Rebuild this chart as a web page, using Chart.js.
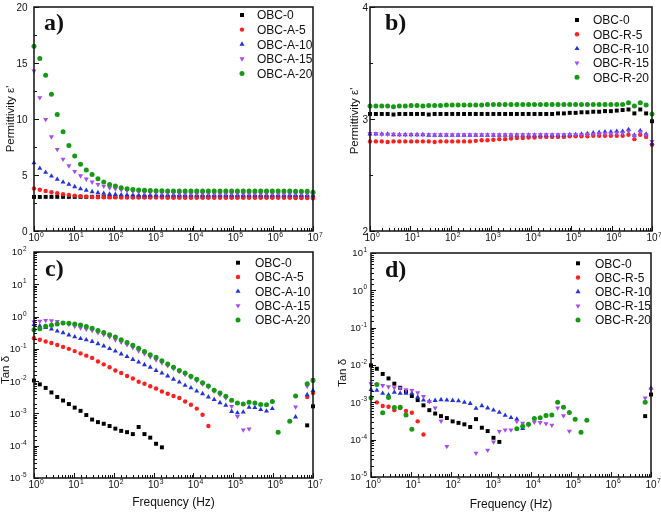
<!DOCTYPE html>
<html>
<head>
<meta charset="utf-8">
<title>Permittivity and tan delta</title>
<script src="https://cdn.jsdelivr.net/npm/chart.js@4.4.0/dist/chart.umd.min.js"></script>
<style>
    body { margin: 0; background: #fff; }
    #wrap { position: relative; width: 661px; height: 512px; }
    #wrap canvas { position: absolute; left: 0; top: 0; }
</style>
</head>
<body>
<div id="wrap">
    <canvas id="panelA" width="661" height="512"></canvas>
    <canvas id="panelB" width="661" height="512"></canvas>
    <canvas id="panelC" width="661" height="512"></canvas>
    <canvas id="panelD" width="661" height="512"></canvas>
</div>
<script>
// measurement frequencies (Hz), ~7 points per decade
const freq = [
    1, 1.4, 1.96, 2.74, 3.83, 5.36, 7.5,
    10.5, 14.7, 20.5, 28.7, 40.2, 56.2, 78.7,
    110, 154, 216, 302, 422, 591, 825,
    1155, 1616, 2262, 3162, 4425, 6190, 8660,
    12115, 16950, 23710, 33170, 46420, 64940, 90850,
    127100, 177800, 248800, 348100, 487000, 681300, 953200,
    1334000, 1866000, 2610000, 3652000, 5109000, 7149000, 10000000
];

const labelsA = ['OBC-0', 'OBC-A-5', 'OBC-A-10', 'OBC-A-15', 'OBC-A-20'];
const labelsR = ['OBC-0', 'OBC-R-5', 'OBC-R-10', 'OBC-R-15', 'OBC-R-20'];

// a) permittivity, OBC-A series
const epsA0 = [
    3.04, 3.04, 3.05, 3.05, 3.05, 3.05, 3.05,
    3.05, 3.05, 3.05, 3.05, 3.05, 3.05, 3.05,
    3.05, 3.05, 3.05, 3.05, 3.05, 3.05, 3.05,
    3.05, 3.05, 3.05, 3.05, 3.05, 3.05, 3.05,
    3.05, 3.05, 3.05, 3.05, 3.05, 3.05, 3.05,
    3.05, 3.05, 3.05, 3.05, 3.05, 3.05, 3.05,
    3.05, 3.05, 3.05, 3.05, 3.05, 3.04, 3.02
];
const epsA5 = [
    3.80, 3.68, 3.57, 3.46, 3.37, 3.28, 3.22,
    3.16, 3.11, 3.07, 3.04, 3.02, 3.01, 3.00,
    3.00, 2.99, 2.99, 2.99, 2.98, 2.98, 2.98,
    2.98, 2.98, 2.97, 2.97, 2.97, 2.97, 2.97,
    2.97, 2.97, 2.97, 2.97, 2.97, 2.97, 2.97,
    2.97, 2.97, 2.97, 2.96, 2.96, 2.96, 2.96,
    2.96, 2.96, 2.96, 2.95, 2.95, 2.94, 2.92
];
const epsA10 = [
    6.09, 5.59, 5.23, 4.90, 4.61, 4.37, 4.16,
    3.95, 3.77, 3.63, 3.51, 3.42, 3.36, 3.30,
    3.26, 3.23, 3.21, 3.20, 3.19, 3.19, 3.19,
    3.19, 3.19, 3.19, 3.19, 3.19, 3.19, 3.19,
    3.19, 3.19, 3.19, 3.19, 3.19, 3.19, 3.19,
    3.19, 3.19, 3.19, 3.19, 3.19, 3.19, 3.19,
    3.19, 3.19, 3.19, 3.19, 3.18, 3.17, 3.14
];
const epsA15 = [
    14.3, 11.9, 9.96, 8.41, 7.28, 6.42, 5.82,
    5.32, 4.93, 4.64, 4.37, 4.16, 4.01, 3.86,
    3.77, 3.68, 3.60, 3.54, 3.49, 3.45, 3.42,
    3.40, 3.38, 3.37, 3.36, 3.35, 3.35, 3.34,
    3.34, 3.34, 3.34, 3.34, 3.34, 3.34, 3.34,
    3.34, 3.34, 3.34, 3.34, 3.34, 3.34, 3.34,
    3.34, 3.34, 3.34, 3.33, 3.33, 3.32, 3.28
];
const epsA20 = [
    16.5, 15.4, 13.9, 12.2, 10.4, 8.86, 7.64,
    6.69, 5.97, 5.44, 5.05, 4.67, 4.37, 4.16,
    4.01, 3.86, 3.77, 3.71, 3.66, 3.63, 3.61,
    3.60, 3.59, 3.58, 3.58, 3.57, 3.57, 3.57,
    3.57, 3.57, 3.57, 3.57, 3.57, 3.57, 3.57,
    3.57, 3.57, 3.57, 3.57, 3.57, 3.57, 3.57,
    3.57, 3.57, 3.57, 3.56, 3.56, 3.54, 3.45
];

// b) permittivity, OBC-R series
const epsR0 = [
    3.045, 3.045, 3.045, 3.045, 3.04, 3.045, 3.045,
    3.045, 3.045, 3.045, 3.04, 3.045, 3.045, 3.045,
    3.045, 3.045, 3.045, 3.045, 3.045, 3.045, 3.045,
    3.045, 3.045, 3.045, 3.045, 3.045, 3.045, 3.045,
    3.045, 3.045, 3.045, 3.045, 3.05, 3.05, 3.055,
    3.055, 3.06, 3.06, 3.065, 3.065, 3.07, 3.07,
    3.075, 3.08, 3.085, 3.05, 3.085, 3.05, 2.98
];
const epsR5 = [
    2.80, 2.80, 2.80, 2.795, 2.80, 2.80, 2.80,
    2.80, 2.80, 2.80, 2.80, 2.795, 2.80, 2.80,
    2.80, 2.80, 2.80, 2.80, 2.805, 2.81, 2.81,
    2.815, 2.82, 2.82, 2.825, 2.83, 2.83, 2.835,
    2.835, 2.84, 2.84, 2.84, 2.84, 2.84, 2.845,
    2.845, 2.845, 2.845, 2.85, 2.85, 2.85, 2.85,
    2.85, 2.85, 2.86, 2.82, 2.86, 2.84, 2.77
];
const epsR10 = [
    2.865, 2.865, 2.865, 2.865, 2.86, 2.86, 2.86,
    2.86, 2.86, 2.86, 2.855, 2.855, 2.855, 2.855,
    2.855, 2.855, 2.855, 2.855, 2.855, 2.855, 2.855,
    2.855, 2.855, 2.855, 2.855, 2.855, 2.855, 2.855,
    2.855, 2.855, 2.855, 2.855, 2.855, 2.855, 2.86,
    2.86, 2.865, 2.87, 2.875, 2.88, 2.885, 2.885,
    2.89, 2.89, 2.905, 2.855, 2.895, 2.865, 2.78
];
const epsR15 = [
    2.87, 2.87, 2.865, 2.865, 2.865, 2.86, 2.86,
    2.86, 2.86, 2.86, 2.86, 2.86, 2.86, 2.86,
    2.86, 2.86, 2.86, 2.86, 2.86, 2.86, 2.86,
    2.86, 2.86, 2.86, 2.86, 2.86, 2.86, 2.86,
    2.86, 2.86, 2.86, 2.86, 2.86, 2.86, 2.86,
    2.86, 2.86, 2.865, 2.865, 2.87, 2.87, 2.87,
    2.875, 2.875, 2.89, 2.85, 2.885, 2.86, 2.80
];
const epsR20 = [
    3.115, 3.115, 3.115, 3.115, 3.11, 3.115, 3.115,
    3.12, 3.12, 3.115, 3.12, 3.12, 3.12, 3.125,
    3.125, 3.125, 3.125, 3.125, 3.125, 3.125, 3.13,
    3.13, 3.13, 3.13, 3.13, 3.13, 3.13, 3.13,
    3.13, 3.13, 3.13, 3.13, 3.13, 3.13, 3.13,
    3.13, 3.13, 3.13, 3.13, 3.13, 3.13, 3.13,
    3.13, 3.13, 3.146, 3.117, 3.146, 3.125, 3.045
];

// c) log10(tan delta), OBC-A series (null = no point shown)
const logTanA0 = [
    -1.98, -2.10, -2.21, -2.35, -2.49, -2.60, -2.71,
    -2.82, -2.92, -3.05, -3.19, -3.27, -3.32, -3.39,
    -3.47, -3.54, -3.58, -3.64, -3.42, -3.64, -3.75,
    -3.94, -4.05, null, null, null, null, null,
    null, null, null, null, null, null, null,
    null, null, null, null, null, null, null,
    null, null, null, null, null, -3.37, -2.78
];
const logTanA5 = [
    -0.67, -0.72, -0.77, -0.82, -0.88, -0.94, -1.00,
    -1.07, -1.14, -1.21, -1.28, -1.39, -1.48, -1.57,
    -1.67, -1.75, -1.84, -1.92, -2.02, -2.08, -2.16,
    -2.23, -2.32, -2.39, -2.46, -2.52, -2.63, -2.73,
    -2.85, -3.04, -3.39, null, null, null, null,
    null, null, null, null, null, null, null,
    null, null, null, null, null, -2.49, -2.37
];
const logTanA10 = [
    -0.25, -0.29, -0.34, -0.39, -0.45, -0.50, -0.57,
    -0.63, -0.68, -0.72, -0.77, -0.84, -0.91, -0.99,
    -1.07, -1.16, -1.24, -1.33, -1.41, -1.49, -1.57,
    -1.67, -1.75, -1.84, -1.94, -2.03, -2.13, -2.21,
    -2.31, -2.39, -2.49, -2.57, -2.67, -2.75, -2.94,
    -2.98, -2.96, -2.81, -2.82, -2.88, -2.93, -2.85,
    null, null, null, -3.11, null, -2.42, -2.29
];
const logTanA15 = [
    -0.17, -0.14, -0.12, -0.13, -0.15, -0.19, -0.24,
    -0.30, -0.35, -0.39, -0.43, -0.50, -0.56, -0.63,
    -0.72, -0.79, -0.87, -0.96, -1.06, -1.15, -1.25,
    -1.34, -1.43, -1.52, -1.61, -1.70, -1.79, -1.88,
    -1.98, -2.09, -2.18, -2.31, -2.42, -2.52, -2.78,
    -3.09, -3.51, -3.48, null, null, null, null,
    null, null, null, -2.80, null, -2.16, -1.95
];
const logTanA20 = [
    -0.41, -0.375, -0.30, -0.27, -0.23, -0.20, -0.21,
    -0.23, -0.26, -0.31, -0.36, -0.43, -0.49, -0.56,
    -0.63, -0.72, -0.80, -0.89, -0.98, -1.08, -1.18,
    -1.26, -1.37, -1.47, -1.57, -1.67, -1.75, -1.85,
    -1.94, -2.05, -2.15, -2.28, -2.37, -2.47, -2.59,
    -2.68, -2.71, -2.65, -2.68, -2.72, -2.73, -2.63,
    -3.58, null, -3.24, -2.46, null, -2.08, -1.98
];

// d) log10(tan delta), OBC-R series
const logTanR0 = [
    -2.01, -2.10, -2.24, -2.36, -2.50, -2.61, -2.72,
    -2.83, -2.94, -3.08, -3.21, -3.30, -3.37, -3.42,
    -3.51, -3.55, -3.59, -3.66, -3.45, -3.68, -3.77,
    -3.95, -4.06, null, null, null, null, null,
    null, null, null, null, null, null, null,
    null, null, null, null, null, null, null,
    null, null, null, null, null, -3.37, -2.79
];
const logTanR5 = [
    null, -3.00, -3.10, -3.12, -3.21, -3.15, -3.23,
    -3.28, -3.51, -3.86, null, null, null, null,
    null, null, null, null, null, null, null,
    null, null, null, null, null, null, null,
    null, null, null, null, null, null, null,
    null, null, null, null, null, null, null,
    null, null, null, null, null, null, null
];
const logTanR10 = [
    -2.66, -2.68, -2.76, -2.80, -2.73, -2.76, -2.76,
    -2.76, -2.86, -2.94, -2.97, -2.95, -2.93, -2.94,
    -2.95, -2.96, -3.00, -3.03, -3.16, -3.09, -3.15,
    -3.21, -3.27, -3.35, -3.41, -3.45, -3.70, null,
    null, null, null, null, null, null, null,
    null, null, null, null, null, null, null,
    null, null, null, null, null, null, -2.62
];
const logTanR15 = [
    -2.50, -2.52, -2.55, -2.58, -2.61, -2.62, -2.66,
    -2.68, -2.74, -2.84, -2.98, -3.15, -3.50, -4.18,
    null, null, null, null, -4.36, null, -4.28,
    -4.06, -3.78, -3.74, -3.74, -3.51, -3.56, -3.61,
    -3.53, -3.54, -3.57, -3.61, -3.15, -3.36, -3.77,
    null, null, null, null, null, null, null,
    null, null, null, null, null, -2.88, -2.65
];
const logTanR20 = [
    -2.88, -2.52, -3.28, -2.87, -3.14, -3.13, -3.34,
    -3.72, null, null, null, null, null, null,
    null, null, null, null, null, null, null,
    null, null, null, null, -3.71, -3.64, -3.59,
    -3.43, -3.41, -3.35, -3.34, -3.00, -3.13, -3.27,
    -3.45, -3.80, -3.48, null, null, null, null,
    null, null, null, null, null, -3.00, null
];

// marker styles, same order as the legend
const markers = [
    { color: '#000000', style: 'rect', radius: 2.8, rotation: 0 },
    { color: '#ff1f1f', style: 'circle', radius: 2.2, rotation: 0 },
    { color: '#2233dd', style: 'triangle', radius: 2.9, rotation: 0 },
    { color: '#a64cf4', style: 'triangle', radius: 2.9, rotation: 180 },
    { color: '#169a16', style: 'circle', radius: 2.5, rotation: 0 }
];

const FONT = '"Liberation Sans", Arial, sans-serif';

function powerOf10(v) {
    const e = Math.round(Math.log10(v));
    return Math.abs(v / Math.pow(10, e) - 1) < 1e-6 ? e : null;
}

// "10" with a raised exponent
function drawPower(ctx, e, x, y, align, size) {
    const expSize = size * 0.68;
    ctx.font = size + 'px ' + FONT;
    const wBase = ctx.measureText('10').width;
    ctx.font = expSize + 'px ' + FONT;
    const wExp = ctx.measureText(String(e)).width;
    const left = align === 'center' ? x - wBase / 2 : x - wBase - wExp - 0.5;
    ctx.textAlign = 'left';
    ctx.textBaseline = 'alphabetic';
    ctx.font = size + 'px ' + FONT;
    ctx.fillText('10', left, y);
    ctx.font = expSize + 'px ' + FONT;
    ctx.fillText(String(e), left + wBase + 0.5, y - size * 0.45);
}

function drawMarker(ctx, m, x, y) {
    ctx.fillStyle = m.color;
    Chart.helpers.drawPoint(ctx, { pointStyle: m.style, radius: m.radius, rotation: m.rotation, borderWidth: 0 }, x, y);
}

// frame, inward ticks, tick labels, titles, panel letter and legend
function decorPlugin(p) {
    return {
        id: 'decor',
        afterDraw(chart) {
            const ctx = chart.ctx;
            const a = chart.chartArea;
            const xs = chart.scales.x;
            const ys = chart.scales.y;
            const isMajorY = v => p.yLog ? powerOf10(v) !== null
                : Math.abs(v / p.yMajor - Math.round(v / p.yMajor)) < 1e-6;
            ctx.save();
            ctx.strokeStyle = '#111';
            ctx.fillStyle = '#111';

            ctx.lineWidth = 1;
            ctx.beginPath();
            xs.ticks.forEach(t => {
                const px = Math.round(xs.getPixelForValue(t.value)) + 0.5;
                ctx.moveTo(px, a.bottom);
                ctx.lineTo(px, a.bottom - (powerOf10(t.value) !== null ? 5 : 3));
            });
            ys.ticks.forEach(t => {
                const py = Math.round(ys.getPixelForValue(t.value)) + 0.5;
                ctx.moveTo(a.left, py);
                ctx.lineTo(a.left + (isMajorY(t.value) ? 5 : 3), py);
            });
            ctx.stroke();

            ctx.lineWidth = 1.5;
            ctx.strokeRect(a.left, a.top, a.right - a.left, a.bottom - a.top);

            // tick labels
            xs.ticks.forEach(t => {
                const e = powerOf10(t.value);
                if (e !== null) drawPower(ctx, e, xs.getPixelForValue(t.value), p.xLabelY, 'center', 10);
            });
            ys.ticks.forEach(t => {
                if (!isMajorY(t.value)) return;
                const py = ys.getPixelForValue(t.value);
                if (p.yLog) {
                    drawPower(ctx, powerOf10(t.value), a.left - p.yLabelGap, py + 3.4, 'right', 9.5);
                } else {
                    ctx.font = '10px ' + FONT;
                    ctx.textAlign = 'right';
                    ctx.textBaseline = 'alphabetic';
                    ctx.fillText(String(Math.round(t.value)), a.left - p.yLabelGap, py + 3.6);
                }
            });

            // axis titles
            ctx.save();
            ctx.translate(p.yTitle.x, p.yTitle.y);
            ctx.rotate(-Math.PI / 2);
            ctx.font = '11.5px ' + FONT;
            ctx.textAlign = 'center';
            ctx.textBaseline = 'middle';
            ctx.fillText(p.yTitle.text, 0, 0);
            ctx.restore();
            if (p.xTitle) {
                ctx.font = '12px ' + FONT;
                ctx.textAlign = 'center';
                ctx.textBaseline = 'middle';
                ctx.fillText(p.xTitle.text, p.xTitle.x, p.xTitle.y);
            }

            // panel letter
            ctx.font = 'bold 24px "Liberation Serif", "Times New Roman", serif';
            ctx.textAlign = 'left';
            ctx.textBaseline = 'alphabetic';
            ctx.fillText(p.letter.text, p.letter.x, p.letter.y);

            // legend
            p.labels.forEach((label, i) => {
                const y = p.legend.y + i * p.legend.dy;
                drawMarker(ctx, markers[i], p.legend.x, y);
                ctx.fillStyle = '#111';
                ctx.font = '12px ' + FONT;
                ctx.textAlign = 'left';
                ctx.textBaseline = 'alphabetic';
                ctx.fillText(label, p.legend.tx, y + 4.3);
            });
            ctx.restore();
        }
    };
}

function makeDatasets(labels, series, isLog) {
    return series.map((vals, i) => ({
        label: labels[i],
        data: freq
            .map((f, k) => vals[k] === null ? null : { x: f, y: isLog ? Math.pow(10, vals[k]) : vals[k] })
            .filter(pt => pt !== null),
        showLine: false,
        pointStyle: markers[i].style,
        pointRadius: markers[i].radius,
        pointRotation: markers[i].rotation,
        pointBackgroundColor: markers[i].color,
        pointBorderWidth: 0,
        order: 5 - i,
        clip: false
    }));
}

function makePanel(id, p) {
    const yScale = p.yLog
        ? { type: 'logarithmic', min: p.yMin, max: p.yMax }
        : { type: 'linear', min: p.yMin, max: p.yMax };
    yScale.ticks = { display: false, stepSize: p.yStep };
    yScale.grid = { display: false, drawTicks: false };
    yScale.border = { display: false };
    yScale.afterFit = s => { s.width = p.yWidth; };

    return new Chart(document.getElementById(id), {
        type: 'scatter',
        data: { datasets: makeDatasets(p.labels, p.series, p.yLog) },
        options: {
            responsive: false,
            animation: false,
            events: [],
            layout: { padding: p.padding },
            plugins: { legend: { display: false }, tooltip: { enabled: false } },
            scales: {
                x: {
                    type: 'logarithmic',
                    min: 1,
                    max: 1e7,
                    ticks: { display: false },
                    grid: { display: false, drawTicks: false },
                    border: { display: false },
                    afterFit: s => { s.height = p.xHeight; }
                },
                y: yScale
            }
        },
        plugins: [decorPlugin(p)]
    });
}

makePanel('panelA', {
    labels: labelsA,
    series: [epsA0, epsA5, epsA10, epsA15, epsA20],
    yLog: false, yMin: 0, yMax: 20, yStep: 2.5, yMajor: 5,
    padding: { left: 0, right: 348, top: 7, bottom: 262 },
    yWidth: 34, xHeight: 19,
    xLabelY: 241, yLabelGap: 6.5,
    yTitle: { text: "Permittivity ε'", x: 10.5, y: 119 },
    letter: { text: 'a)', x: 44, y: 30 },
    legend: { x: 242, tx: 257, y: 15, dy: 14.6 }
});

makePanel('panelB', {
    labels: labelsR,
    series: [epsR0, epsR5, epsR10, epsR15, epsR20],
    yLog: false, yMin: 2, yMax: 4, yStep: 0.5, yMajor: 1,
    padding: { left: 330, right: 9, top: 7, bottom: 262 },
    yWidth: 40, xHeight: 19,
    xLabelY: 241, yLabelGap: 2,
    yTitle: { text: "Permittivity ε'", x: 354.5, y: 121 },
    letter: { text: 'b)', x: 385, y: 29.5 },
    legend: { x: 577, tx: 593, y: 20, dy: 14.3 }
});

makePanel('panelC', {
    labels: labelsA,
    series: [logTanA0, logTanA5, logTanA10, logTanA15, logTanA20],
    yLog: true, yMin: 1e-5, yMax: 1e2,
    padding: { left: 0, right: 348, top: 252, bottom: 0 },
    yWidth: 34, xHeight: 34,
    xLabelY: 488, yLabelGap: 7.5,
    yTitle: { text: 'Tan δ', x: 5.5, y: 370 },
    xTitle: { text: 'Frequency (Hz)', x: 173.5, y: 503 },
    letter: { text: 'c)', x: 45, y: 276 },
    legend: { x: 238, tx: 255, y: 262.7, dy: 14.3 }
});

makePanel('panelD', {
    labels: labelsR,
    series: [logTanR0, logTanR5, logTanR10, logTanR15, logTanR20],
    yLog: true, yMin: 1e-5, yMax: 1e1,
    padding: { left: 330, right: 10, top: 253, bottom: 1 },
    yWidth: 41, xHeight: 34,
    xLabelY: 487.5, yLabelGap: 4,
    yTitle: { text: 'Tan δ', x: 343, y: 373 },
    xTitle: { text: 'Frequency (Hz)', x: 511, y: 505 },
    letter: { text: 'd)', x: 385, y: 276.5 },
    legend: { x: 578, tx: 595, y: 263.3, dy: 14.2 }
});
</script>
</body>
</html>
